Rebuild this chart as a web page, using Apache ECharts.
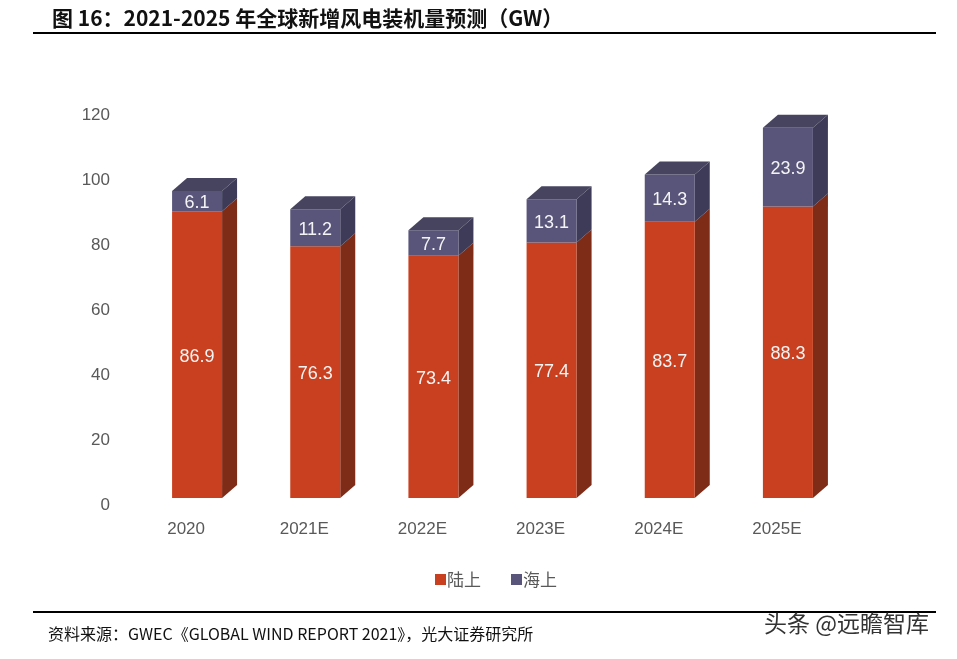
<!DOCTYPE html>
<html>
<head>
<meta charset="utf-8">
<script src="https://cdn.jsdelivr.net/npm/echarts@6/dist/echarts.min.js"></script>
<style>
html,body{margin:0;padding:0;background:#fff;}
#chart{width:957px;height:659px;}
</style>
</head>
<body>
<div id="chart"></div>
<script>
const categories = ['2020', '2021E', '2022E', '2023E', '2024E', '2025E'];
const onshore = [86.9, 76.3, 73.4, 77.4, 83.7, 88.3];
const offshore = [6.1, 11.2, 7.7, 13.1, 14.3, 23.9];
const yTicks = [0, 20, 40, 60, 80, 100, 120];
const seriesNames = ['陆上', '海上'];

const chart = echarts.init(document.getElementById('chart'));

const DX = 15, DY = 13, HALF = 25, SHIFT = 11, FRONT_DROP = 7, K = 3.3 / 3.25;

function box(api, i, lo, hi, colors, drawTop, text) {
  const base = api.coord([i, 0]);
  const pLo = api.coord([i, lo]);
  const pHi = api.coord([i, hi]);
  const y0 = base[1] - FRONT_DROP;
  const yB = y0 + (pLo[1] - base[1]) * K;
  const yT = y0 + (pHi[1] - base[1]) * K;
  const xl = base[0] + SHIFT - HALF;
  const xr = base[0] + SHIFT + HALF;
  const children = [
    { type: 'polygon', shape: { points: [[xr, yT], [xr + DX, yT - DY], [xr + DX, yB - DY], [xr, yB]] },
      style: { fill: colors.side } },
    { type: 'rect', shape: { x: xl, y: yT, width: xr - xl, height: yB - yT },
      style: { fill: colors.front } }
  ];
  if (drawTop) {
    children.push({ type: 'polygon', shape: { points: [[xl, yT], [xl + DX, yT - DY], [xr + DX, yT - DY], [xr, yT]] },
      style: { fill: colors.top } });
  }
  children.push({ type: 'text', style: { text: text, x: (xl + xr) / 2, y: (yT + yB) / 2 + 2,
    align: 'center', verticalAlign: 'middle', fill: '#F4F4F4',
    font: '18px "Liberation Sans", Arial, sans-serif' } });
  return { type: 'group', children: children };
}

const option = {
  animation: false,
  backgroundColor: '#ffffff',
  title: {
    text: '图 16：2021-2025 年全球新增风电装机量预测（GW）',
    left: 47, top: 3,
    textStyle: { fontFamily: '"Noto Sans CJK SC", sans-serif', fontWeight: 'bold', fontSize: 21, color: '#111' }
  },
  graphic: [
    { type: 'line', shape: { x1: 33, y1: 33, x2: 936, y2: 33 }, style: { stroke: '#000', lineWidth: 2 } },
    { type: 'line', shape: { x1: 33, y1: 612, x2: 936, y2: 612 }, style: { stroke: '#000', lineWidth: 2 } },
    { type: 'text', left: 48, top: 626, style: { text: '资料来源：GWEC《GLOBAL WIND REPORT 2021》，光大证券研究所',
      font: '16px "Noto Sans CJK SC", sans-serif', fill: '#111' } },
    { type: 'text', left: 764, top: 612, style: { text: '头条 @远瞻智库',
      font: '23px "Noto Sans CJK SC", sans-serif', fill: '#333' } }
  ],
  legend: {
    data: [{ name: '陆上', itemStyle: { color: '#C8401F' } }, { name: '海上', itemStyle: { color: '#58547A' } }],
    left: 430, top: 566, icon: 'rect', itemWidth: 11, itemHeight: 11, itemGap: 30,
    textStyle: { fontFamily: '"Noto Sans CJK SC", sans-serif', fontSize: 17, color: '#595959', padding: [0, 0, 0, -4] }
  },
  grid: { left: 127, right: 121, top: 115, bottom: 154 },
  xAxis: {
    type: 'category', data: categories,
    axisLine: { show: false }, axisTick: { show: false },
    axisLabel: { margin: 16, color: '#595959', fontSize: 17, fontFamily: '"Liberation Sans", Arial, sans-serif' }
  },
  yAxis: {
    type: 'value', min: 0, max: 120, interval: 20,
    axisLine: { show: false }, axisTick: { show: false }, splitLine: { show: false },
    axisLabel: { margin: 17, color: '#595959', fontSize: 17, fontFamily: '"Liberation Sans", Arial, sans-serif',
      formatter: v => yTicks.includes(v) ? String(v) : '' }
  },
  series: [
    {
      name: seriesNames[0], type: 'custom', data: onshore.map((v, i) => [i, v]),
      itemStyle: { color: '#C8401F' },
      renderItem: (params, api) => box(api, params.dataIndex, 0, onshore[params.dataIndex],
        { front: '#C8401F', side: '#7E2B18', top: '#A8391D' }, false, onshore[params.dataIndex].toFixed(1))
    },
    {
      name: seriesNames[1], type: 'custom', data: offshore.map((v, i) => [i, onshore[i] + v]),
      itemStyle: { color: '#58547A' },
      renderItem: (params, api) => {
        const i = params.dataIndex;
        return box(api, i, onshore[i], onshore[i] + offshore[i],
          { front: '#58547A', side: '#3D3B57', top: '#47445F' }, true, offshore[i].toFixed(1));
      }
    }
  ]
};
chart.setOption(option);
</script>
</body>
</html>
